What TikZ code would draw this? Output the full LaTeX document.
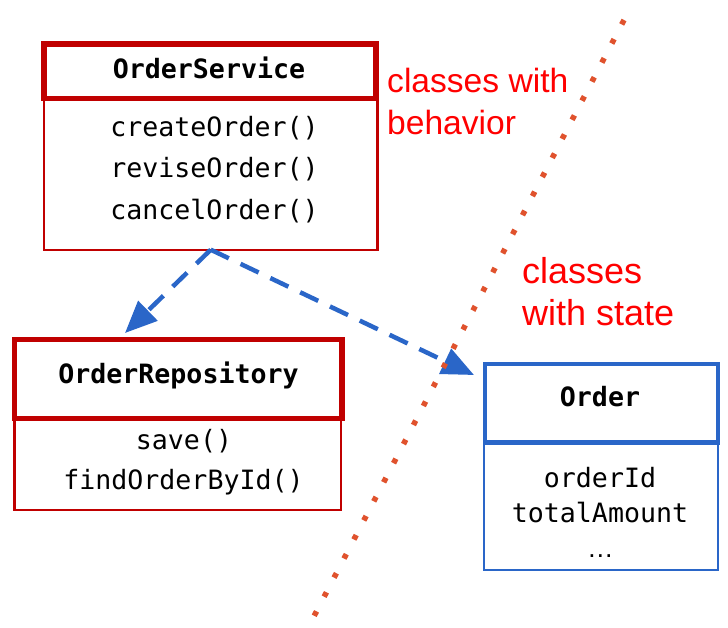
\documentclass[tikz,border=0pt]{standalone}
\usepackage{fontspec}
\setmainfont{Liberation Sans}
\newfontfamily\codefont{DejaVu Sans Mono}
\usetikzlibrary{arrows.meta}
\definecolor{boxred}{HTML}{C00000}
\definecolor{labred}{HTML}{FF0000}
\definecolor{linkblue}{HTML}{2A66C8}
\definecolor{divorange}{HTML}{E0522D}
\begin{document}
\begin{tikzpicture}[x=1pt,y=-1pt,
  boxbase/.style={rectangle,inner sep=0pt,outer sep=0pt},
  redhead/.style={boxbase,draw=boxred,line width=5.5pt},
  redbody/.style={boxbase,draw=boxred,line width=2.2pt},
  bluehead/.style={boxbase,draw=linkblue,line width=4.2pt},
  bluebody/.style={boxbase,draw=linkblue,line width=2.2pt},
  codetxt/.style={font=\codefont\fontsize{26.6}{32}\selectfont,inner sep=0pt,anchor=base,text=black},
  codebold/.style={codetxt,font=\codefont\bfseries\fontsize{26.6}{32}\selectfont},
  lab/.style={text=labred,inner sep=0pt,anchor=north west,align=left},
  dep/.style={draw=linkblue,line width=4.5pt,dash pattern=on 20pt off 13pt,-{Triangle[length=32pt,width=27pt]}},
  divider/.style={draw=divorange,line width=5.5pt,dash pattern=on 5pt off 16.5pt}
]
\fill[white] (0,0) rectangle (728,627);
\useasboundingbox (0,0) rectangle (728,627);

% OrderService
\node[redbody,minimum width=333.5pt,minimum height=151.2pt] (svcbody) at (210.75,174.1) {};
\node[redhead,minimum width=332pt,minimum height=54.5pt] (svchead) at (210,71.25) {};
\node[codebold] (svcname) at (209,78) {OrderService};
\node[codetxt] (svcop1) at (214.5,136) {createOrder()};
\node[codetxt] (svcop2) at (214.5,177) {reviseOrder()};
\node[codetxt] (svcop3) at (214.5,219) {cancelOrder()};

% OrderRepository
\node[redbody,minimum width=326.8pt,minimum height=91.4pt] (repobody) at (177.9,464) {};
\node[redhead,minimum width=327.3pt,minimum height=78.8pt] (repohead) at (178.35,378.9) {};
\node[codebold] (reponame) at (178.5,383) {OrderRepository};
\node[codetxt] (repoop1) at (184,449) {save()};
\node[codetxt] (repoop2) at (183.5,489) {findOrderById()};

% Order
\node[bluebody,minimum width=234pt,minimum height=127.2pt] (ordbody) at (600.8,506.1) {};
\node[bluehead,minimum width=233.3pt,minimum height=78.8pt] (ordhead) at (601.35,403.1) {};
\node[codebold] (ordname) at (600,406.5) {Order};
\node[codetxt] (ordattr1) at (600,487) {orderId};
\node[codetxt] (ordattr2) at (600,522) {totalAmount};
\node[codetxt,font=\fontsize{26.6}{32}\selectfont] (ordattr3) at (600.5,557) {…};

% labels
\node[lab,font=\fontsize{33.6}{41.5}\selectfont] (behlabel) at (387,68) {classes with\\behavior};
\node[lab,font=\fontsize{36}{42}\selectfont] (statelabel) at (522,257) {classes\\with state};

% dependencies
\coordinate (repotip) at (125,333);
\coordinate (ordtip) at (474,375);
\draw[dep] (svcbody.south) -- (repotip);
\draw[dep] (svcbody.south) -- (ordtip);

% divider
\coordinate (divtop) at (624,20);
\coordinate (divbot) at (311,622);
\draw[divider] (divtop) -- (divbot);
\end{tikzpicture}
\end{document}
